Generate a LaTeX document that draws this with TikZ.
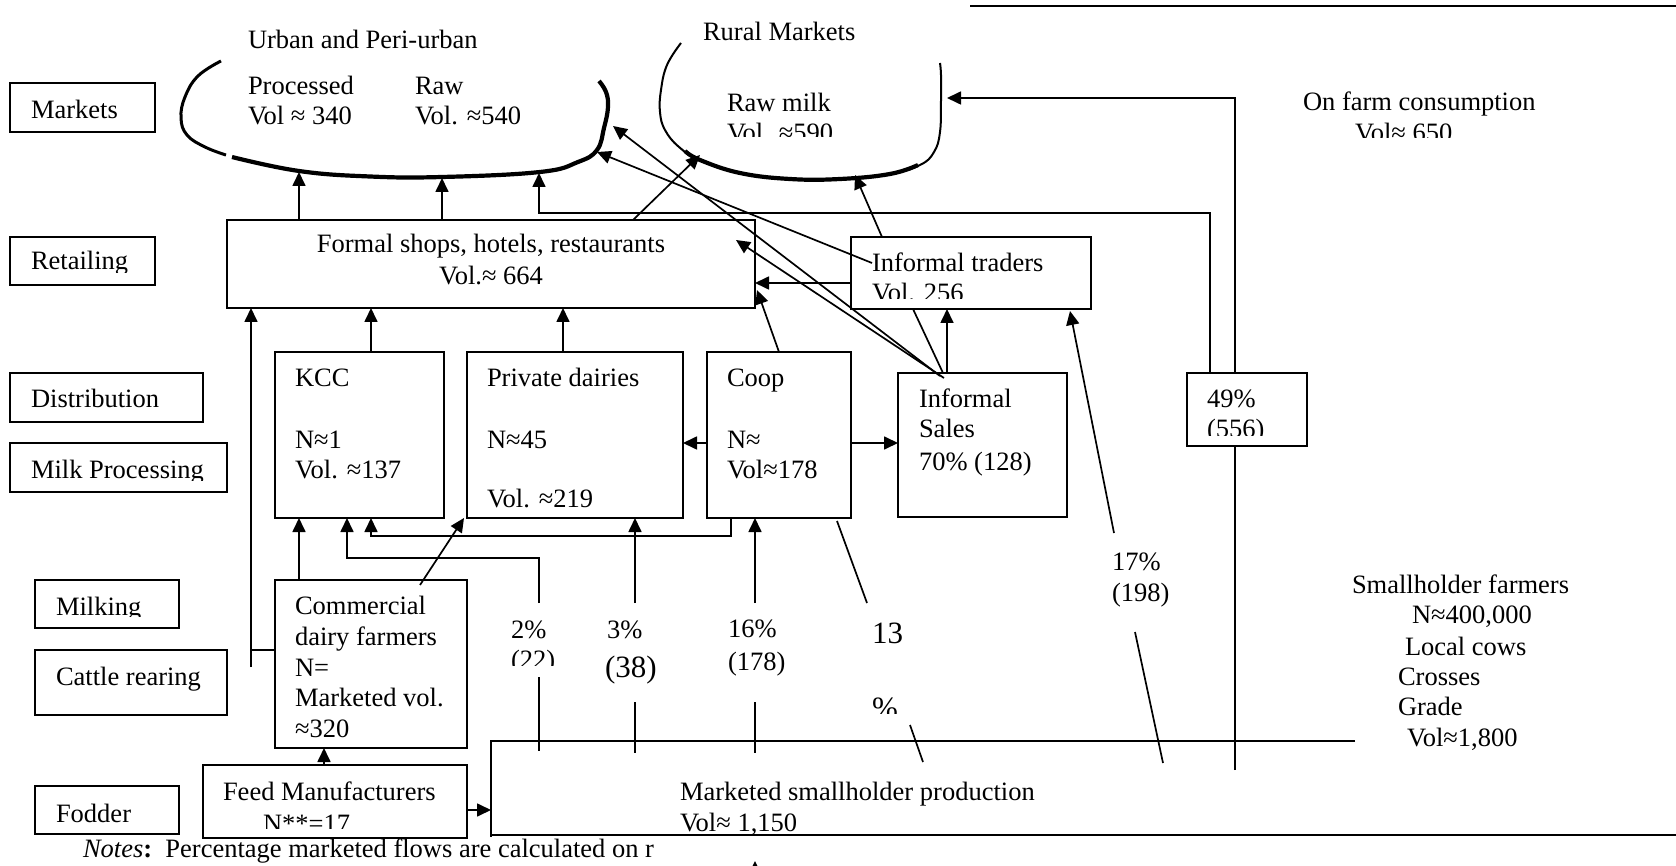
\documentclass[tikz,border=0pt]{standalone}
\usepackage{fontspec}
\setmainfont{Liberation Serif}
\usetikzlibrary{arrows.meta}
\newcommand{\fsz}{\fontsize{26.5pt}{30pt}\selectfont}
\newcommand{\fbg}{\fontsize{31pt}{36pt}\selectfont}
\begin{document}
\begin{tikzpicture}[x=1pt,y=-1pt,
  every node/.style={inner sep=0pt,outer sep=0pt,font=\fsz},
  box/.style={draw,line width=2.2pt,fill=white,anchor=north west},
  txt/.style={anchor=base west},
  conn/.style={line width=1.7pt},
  arr/.style={conn,-{Triangle[length=14pt,width=13pt]}},
  frame/.style={line width=2.4pt}]
\useasboundingbox (0,0) rectangle (1676,866);
\clip (0,0) rectangle (1676,866);

% on-farm consumption line (passes under the 49% box)
\coordinate (rOn) at (947,98);
\coordinate (sf1) at (1235,770);
\draw[arr] (sf1) |- (rOn);

% ---------- boxes ----------
\node[box,minimum width=145pt,minimum height=49pt] (markets) at (10,83) {};
\node[box,minimum width=145pt,minimum height=48pt] (retail) at (10,237) {};
\node[box,minimum width=193pt,minimum height=49pt] (distr) at (10,373) {};
\node[box,minimum width=217pt,minimum height=49pt] (milkproc) at (10,443) {};
\node[box,minimum width=144pt,minimum height=48pt] (milking) at (35,580) {};
\node[box,minimum width=192pt,minimum height=65pt] (cattle) at (35,650) {};
\node[box,minimum width=144pt,minimum height=48pt] (fodder) at (35,786) {};
\node[box,minimum width=528pt,minimum height=88pt] (formal) at (227,220) {};
\node[box,minimum width=240pt,minimum height=72pt] (inftr) at (851,237) {};
\node[box,minimum width=169pt,minimum height=166pt] (kcc) at (275,352) {};
\node[box,minimum width=216pt,minimum height=166pt] (priv) at (467,352) {};
\node[box,minimum width=144pt,minimum height=166pt] (coop) at (707,352) {};
\node[box,minimum width=169pt,minimum height=144pt] (infs) at (898,373) {};
\node[box,minimum width=120pt,minimum height=73pt] (pct) at (1187,373) {};
\node[box,minimum width=192pt,minimum height=168pt] (comm) at (275,580) {};
\node[box,minimum width=264pt,minimum height=73pt] (feed) at (203,765) {};

% ---------- market curves ----------
\draw[line width=3pt] plot[smooth,tension=0.7] coordinates {(221,61) (198,76) (185,97) (181,118) (187,135) (205,147) (226,155)};
\draw[line width=4.2pt] plot[smooth,tension=0.7] coordinates {(232,157) (299,171) (370,176.5) (442,177) (540,172) (578,162) (597,150) (604,128) (608,107) (606,92) (599,81)};
\draw[line width=2pt] plot[smooth,tension=0.7] coordinates {(681,43) (667,65) (661,90) (660,112) (665,130) (679,147) (700,160) (740,173) (790,179) (840,179) (890,174) (920,165) (934,152) (940,132) (941,100) (941,75) (940,63)};
\draw[line width=4.2pt] plot[smooth,tension=0.7] coordinates {(685,151) (700,160) (740,173) (790,179) (840,179) (890,174) (918,165)};

% top rule and smallholder frame
\coordinate (topA) at (970,6);
\coordinate (topB) at (1676,6);
\draw[frame] (topA) -- (topB);
\coordinate (mTR) at (1355,741);
\coordinate (mTL) at (491,741);
\coordinate (mBL) at (491,837);
\coordinate (mB0) at (491,835);
\coordinate (mBR) at (1676,835);
\draw[frame] (mTR) -- (mTL) -- (mBL);
\draw[frame] (mB0) -- (mBR);

% ---------- texts ----------
\node[txt] (tMk) at (31,119) {Markets};
\begin{scope}\clip (0,0) rectangle (1676,272.5);
\node[txt] (tRt) at (31,270) {Retailing};\end{scope}
\node[txt] (tDs) at (31,408) {Distribution};
\begin{scope}\clip (0,0) rectangle (1676,480.5);
\node[txt] (tMp) at (31,478) {Milk Processing};\end{scope}
\begin{scope}\clip (0,0) rectangle (1676,616);
\node[txt] (tMl) at (56,615) {Milking};\end{scope}
\node[txt] (tCr) at (56,685) {Cattle rearing};
\node[txt] (tFd) at (56,822) {Fodder};

\node[txt] (tUrb) at (248,49) {Urban and Peri-urban};
\node[txt] (tPr) at (248,95) {Processed};
\node[txt] (tPrV) at (248,125) {Vol ≈ 340};
\node[txt] (tRw) at (415,95) {Raw};
\node[txt] (tRwV) at (415,125) {Vol. ≈540};
\node[txt] (tRur) at (703,41) {Rural Markets};
\node[txt] (tRm) at (727,112) {Raw milk};
\begin{scope}\clip (0,0) rectangle (1676,137);
\node[txt] (tRmV) at (727,142) {Vol. ≈590};\end{scope}
\node[txt] (tOf) at (1303,111) {On farm consumption};
\begin{scope}\clip (0,0) rectangle (1676,138);
\node[txt] (tOfV) at (1355,142) {Vol≈ 650};\end{scope}

\node[anchor=base] (tF1) at (491,253) {Formal shops, hotels, restaurants};
\node[anchor=base] (tF2) at (491,285) {Vol.≈ 664};
\node[txt] (tIt) at (872,272) {Informal traders};
\begin{scope}\clip (0,0) rectangle (1676,299);
\node[txt] (tItV) at (872,302) {Vol. 256};\end{scope}

\node[txt] (tK1) at (295,387) {KCC};
\node[txt] (tK2) at (295,448) {N≈1};
\node[txt] (tK3) at (295,478) {Vol. ≈137};
\node[txt] (tP1) at (487,387) {Private dairies};
\node[txt] (tP2) at (487,448) {N≈45};
\node[txt] (tP3) at (487,507) {Vol. ≈219};
\node[txt] (tC1) at (727,387) {Coop};
\node[txt] (tC2) at (727,448) {N≈};
\node[txt] (tC3) at (727,478) {Vol≈178};
\node[txt] (tI1) at (919,408) {Informal};
\node[txt] (tI2) at (919,438) {Sales};
\node[txt] (tI3) at (919,470) {70\% (128)};
\node[txt] (t491) at (1207,408) {49\%};
\begin{scope}\clip (0,0) rectangle (1676,435);
\node[txt] (t492) at (1207,438) {(556)};\end{scope}

\node[txt] (tCo1) at (295,614) {Commercial};
\node[txt] (tCo2) at (295,645) {dairy farmers};
\node[txt] (tCo3) at (295,676) {N=};
\node[txt] (tCo4) at (295,706) {Marketed vol.};
\node[txt] (tCo5) at (295,737) {≈320};

\node[txt] (t21) at (511,638) {2\%};
\begin{scope}\clip (0,0) rectangle (1676,665);
\node[txt] (t22) at (511,668) {(22)};\end{scope}
\node[txt] (t31) at (607,638) {3\%};
\node[txt,font=\fbg] (t32) at (605,677) {(38)};
\node[txt] (t161) at (728,637) {16\%};
\node[txt] (t162) at (728,670) {(178)};
\node[txt,font=\fbg] (t131) at (872,643) {13};
\begin{scope}\clip (0,0) rectangle (1676,713);
\node[txt,font=\fbg] (t132) at (872,718) {\%};\end{scope}
\node[txt] (t171) at (1112,570) {17\%};
\node[txt] (t172) at (1112,601) {(198)};

\node[txt] (tS1) at (1352,593) {Smallholder farmers};
\node[txt] (tS2) at (1412,623) {N≈400,000};
\node[txt] (tS3) at (1405,655) {Local cows};
\node[txt] (tS4) at (1398,685) {Crosses};
\node[txt] (tS5) at (1398,715) {Grade};
\node[txt] (tS6) at (1407,746) {Vol≈1,800};

\node[txt] (tM1) at (680,800) {Marketed smallholder production};
\node[txt] (tM2) at (680,831) {Vol≈ 1,150};
\node[txt] (tFe1) at (223,800) {Feed Manufacturers};
\begin{scope}\clip (0,0) rectangle (1676,828.5);
\node[txt] (tFe2) at (263,832) {N**=17};\end{scope}
\begin{scope}\clip (0,0) rectangle (658,866);
\node[txt] (tNote) at (83,857) {\textit{Notes}\textbf{:}\ \ Percentage marketed flows are calculated on r};\end{scope}

% ---------- connectors ----------
% retail -> urban markets
\coordinate (u1) at (299,172);
\coordinate (u2) at (442,178);
\coordinate (u3) at (539,173);
\coordinate (u4) at (613,126);
\coordinate (u5) at (597,152);
\draw[arr] (formal.north -| u1) -- (u1);
\draw[arr] (formal.north -| u2) -- (u2);
\coordinate (b49) at (1210,213);
\draw[arr] (pct.north -| b49) -- (b49) -| (u3);
% to rural markets
\coordinate (r1) at (700,155);
\coordinate (r2) at (855,175);
\coordinate (fTop) at (633,220);
\draw[arr] (fTop) -- (r1);
\coordinate (itTop) at (882,237);
\draw[arr] (itTop) -- (r2);
% informal sales / traders fan
\coordinate (isA) at (940,376);
\coordinate (isB) at (944,378);
\coordinate (fIn) at (736,240);
\draw[arr] (isA) -- (u4);
\draw[arr] (isB) -- (fIn);
\coordinate (itTxt) at (872,263);
\draw[arr] (itTxt) -- (u5);
\coordinate (itR) at (755,283);
\draw[arr] (inftr.west |- itR) -- (itR);
\coordinate (cpTop) at (779,352);
\coordinate (fR) at (757,290);
\draw[arr] (cpTop) -- (fR);
\coordinate (isUp) at (947,373);
\draw[arr] (isUp) -- (inftr.south -| isUp);
\coordinate (itBL) at (913,309);
\coordinate (isC) at (943,373);
\draw[conn] (itBL) -- (isC);
% 17 %
\coordinate (s17a) at (1114,533);
\coordinate (s17t) at (1070,311);
\draw[arr] (s17a) -- (s17t);
\coordinate (s17b) at (1135,632);
\coordinate (s17c) at (1163,763);
\draw[conn] (s17b) -- (s17c);
% coop side arrows
\coordinate (cpy) at (0,443);
\draw[arr] (coop.west |- cpy) -- (priv.east |- cpy);
\draw[arr] (coop.east |- cpy) -- (infs.west |- cpy);
% processors -> retail
\coordinate (xk) at (371,0);
\coordinate (xp) at (563,0);
\draw[arr] (kcc.north -| xk) -- (formal.south -| xk);
\draw[arr] (priv.north -| xp) -- (formal.south -| xp);
% commercial farmers
\coordinate (cl) at (251,650);
\coordinate (clb) at (251,667);
\draw[conn] (comm.west |- cl) -- (cl);
\draw[arr] (clb) -- (formal.south -| clb);
\coordinate (xc) at (299,0);
\draw[arr] (comm.north -| xc) -- (kcc.south -| xc);
\coordinate (cmA) at (420,585);
\coordinate (pvB) at (464,518);
\draw[arr] (cmA) -- (pvB);
% 2 %
\coordinate (p2a) at (539,603);
\coordinate (p2b) at (347,558);
\draw[arr] (p2a) |- (p2b) -- (kcc.south -| p2b);
\coordinate (p2c) at (539,677);
\coordinate (p2d) at (539,751);
\draw[conn] (p2c) -- (p2d);
% coop bracket to KCC
\coordinate (cbx) at (731,536);
\coordinate (cb) at (371,536);
\draw[arr] (coop.south -| cbx) -- (cbx) -- (cb) -- (kcc.south -| cb);
% 3 %
\coordinate (p3a) at (635,603);
\draw[arr] (p3a) -- (priv.south -| p3a);
\coordinate (p3c) at (635,702);
\coordinate (p3d) at (635,753);
\draw[conn] (p3c) -- (p3d);
% 16 %
\coordinate (p16a) at (755,603);
\draw[arr] (p16a) -- (coop.south -| p16a);
\coordinate (p16c) at (755,702);
\coordinate (p16d) at (755,753);
\draw[conn] (p16c) -- (p16d);
% 13 %
\coordinate (p13a) at (837,521);
\coordinate (p13b) at (867,603);
\draw[conn] (p13a) -- (p13b);
\coordinate (p13c) at (910,725);
\coordinate (p13d) at (923,762);
\draw[conn] (p13c) -- (p13d);
% feed
\coordinate (xf) at (324,0);
\draw[arr] (feed.north -| xf) -- (comm.south -| xf);
\coordinate (mk) at (491,810);
\draw[arr] (feed.east |- mk) -- (mk);
% arrow tip peeking at bottom edge
\coordinate (bt0) at (755,885);
\coordinate (bt1) at (755,861);
\draw[arr] (bt0) -- (bt1);
\end{tikzpicture}
\end{document}
